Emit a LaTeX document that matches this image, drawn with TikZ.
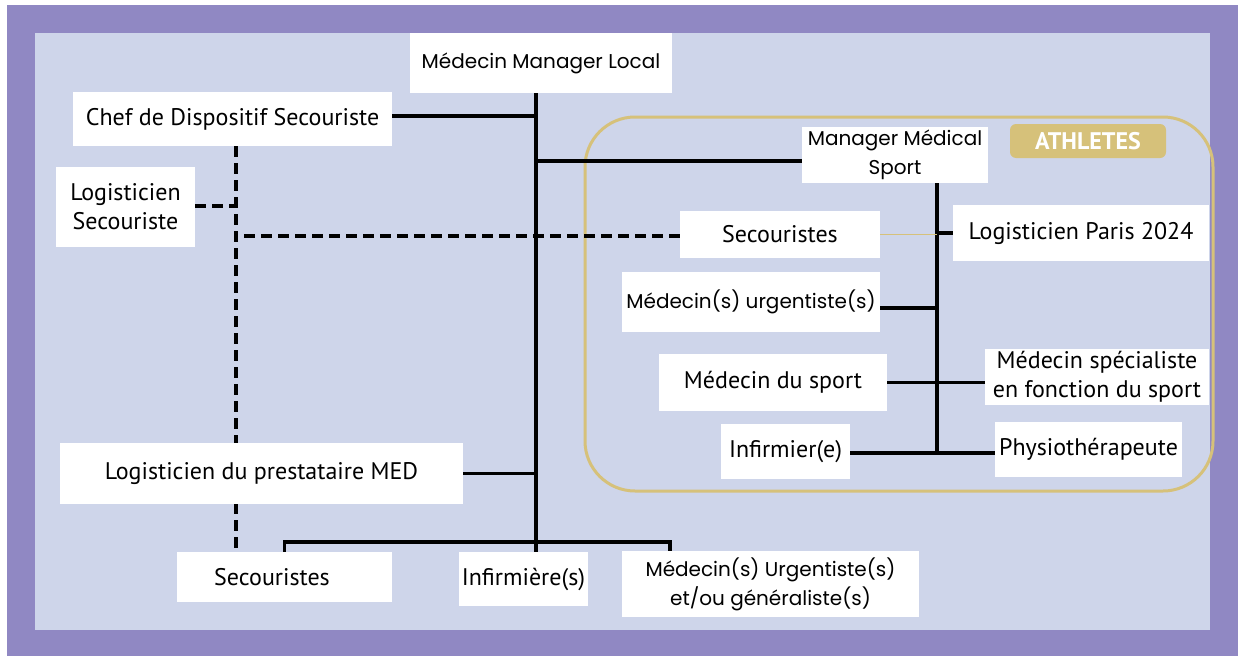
\documentclass[tikz,border=0pt]{standalone}
\usepackage{fontspec}
\setmainfont{PT Sans}
\newfontfamily\quirk{Poppins}
\definecolor{purp}{HTML}{9088C3}
\definecolor{inner}{HTML}{CED5EA}
\definecolor{gold}{HTML}{D6C17A}
\pgfdeclarelayer{back}
\pgfdeclarelayer{lines}
\pgfsetlayers{back,lines,main}
\begin{document}
\begin{tikzpicture}[x=1pt,y=-1pt,
  box/.style={fill=white, inner sep=0pt, align=center, font=\fontsize{24}{29}\selectfont},
  qbox/.style={box, font=\quirk\fontsize{20}{29}\selectfont},
  conn/.style={line width=3.5pt, black},
  dconn/.style={line width=3.5pt, black, dash pattern=on 11pt off 6pt},
  goldconn/.style={line width=1.5pt, gold}]
\useasboundingbox (0,0) rectangle (1238,656);
\begin{pgfonlayer}{back}
  \fill[white] (0,0) rectangle (1238,656);
  \fill[purp] (7,5) rectangle (1238,656);
  \fill[inner] (35,33) rectangle (1210,630);
  \draw[gold, line width=3pt, rounded corners=50pt] (585,117) rectangle (1213,491);
\end{pgfonlayer}

% nodes
\node[qbox, minimum width=262pt, minimum height=60pt] (mml) at (541,63) {\raisebox{-3pt}{Médecin Manager Local}};
\node[box, minimum width=319pt, minimum height=54pt] (chef) at (232.5,119) {Chef de Dispositif Secouriste};
\node[box, minimum width=139pt, minimum height=80pt] (logsec) at (125.5,207) {Logisticien\\Secouriste};
\node[qbox, minimum width=186pt, minimum height=56pt] (mms) at (895,155) {Manager Médical\\Sport};
\node[fill=gold, rounded corners=6pt, inner sep=0pt, minimum width=156pt, minimum height=34pt, text=white, font=\fontsize{24}{24}\selectfont\bfseries] (ath) at (1088,141) {ATHLETES};
\node[box, minimum width=200pt, minimum height=47pt] (secR) at (780,234.5) {Secouristes};
\node[box, minimum width=256pt, minimum height=56pt] (logp) at (1081,233) {Logisticien Paris 2024};
\node[qbox, minimum width=258pt, minimum height=60pt] (medurg) at (751,302) {Médecin(s) urgentiste(s)};
\node[box, minimum width=228pt, minimum height=57pt] (medsport) at (773,382.5) {Médecin du sport};
\node[box, minimum width=224pt, minimum height=56pt] (medspec) at (1097,377) {Médecin spécialiste\\en fonction du sport};
\node[box, minimum width=129pt, minimum height=55pt] (infR) at (785.5,451.5) {Infirmier(e)};
\node[box, minimum width=187pt, minimum height=55pt] (physio) at (1088.5,449.5) {Physiothérapeute};
\node[box, minimum width=403pt, minimum height=61pt] (logmed) at (261.5,473.5) {Logisticien du prestataire MED};
\node[box, minimum width=215pt, minimum height=50pt] (secB) at (284.5,577) {Secouristes\hspace{25pt}};
\node[box, minimum width=129pt, minimum height=54pt] (infB) at (523.5,579) {Infirmière(s)};
\node[qbox, minimum width=297pt, minimum height=66pt] (medgen) at (770.5,584) {Médecin(s) Urgentiste(s)\\et/ou généraliste(s)};

\coordinate (T) at (536,0);
\coordinate (R) at (937,0);
\coordinate (D) at (236,0);
\coordinate (B) at (670,542);

\begin{pgfonlayer}{lines}
  % main trunk
  \draw[conn] (mml.south -| T) -- (infB.north -| T);
  \draw[conn] ([yshift=3pt]chef.east) -- ([yshift=3pt]chef.east -| T);
  \draw[conn] ([yshift=-6pt]mms.west) -- ([yshift=-6pt]mms.west -| T);
  \draw[conn] (logmed.east) -- (logmed.east -| T);
  \draw[conn] (secB.north) |- (B) -- (B |- medgen.north);
  % dashed
  \draw[dconn] (chef.south -| D) -- (secB.north -| D);
  \draw[dconn] ([yshift=1pt]logsec.east) -- ([yshift=1pt]logsec.east -| D);
  \draw[dconn] ([yshift=-1.5pt]secR.west) -- ([yshift=-1.5pt]secR.west -| D);
  % right trunk
  \draw[conn] (mms.south -| R) -- ([yshift=-1.5pt]infR.east -| R);
  \draw[goldconn] (secR.east) -- (secR.east -| R);
  \draw[conn] (logp.west) -- (logp.west -| R);
  \draw[conn] ([yshift=-6pt]medurg.east) -- ([yshift=-6pt]medurg.east -| R);
  \draw[conn] (medsport.east) -- (medspec.west |- medsport.east);
  \draw[conn] ([yshift=-1.5pt]infR.east) -- ([yshift=-1.5pt]physio.west |- infR.east);
\end{pgfonlayer}
\end{tikzpicture}
\end{document}
